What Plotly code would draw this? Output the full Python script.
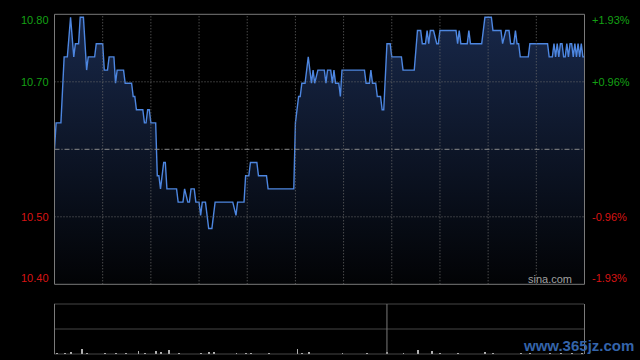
import plotly.graph_objects as go

# ---- data (minutes since 9:30 open, HK session 330 min) ----
prev_close = 10.60
axis_low, axis_high = 10.3955, 10.8045

minutes = [0, 1, 4, 6, 8, 10, 12, 13, 15, 16, 18, 20, 21, 25, 26, 30, 31, 33, 34, 37,
           38, 39, 43, 44, 48, 49, 50, 51, 55, 56, 57, 58, 59, 60, 63, 64, 65, 66, 68, 69,
           70, 76, 77, 80, 81, 83, 84, 85, 87, 88, 90, 91, 92, 94, 96, 98, 99, 100, 111, 113,
           114, 118, 119, 121, 122, 126, 127, 132, 133, 149, 150, 152, 153, 154, 156, 158, 160, 161, 162, 164,
           168, 169, 170, 172, 173, 174, 175, 177, 178, 179, 193, 194, 196, 197, 198, 200, 201, 203, 204, 205,
           207, 209, 210, 216, 217, 224, 226, 228, 229, 231, 232, 233, 234, 236, 238, 239, 240, 250, 251, 252,
           253, 257, 258, 259, 266, 268, 272, 273, 278, 279, 281, 283, 284, 286, 287, 288, 289, 290, 295, 296,
           307, 308, 310, 311, 312, 313, 314, 315, 316, 317, 318, 319, 320, 321, 322, 323, 324, 325, 326, 327,
           328, 329, 330]
prices = [10.60, 10.64, 10.64, 10.74, 10.74, 10.80, 10.74, 10.76, 10.76, 10.80, 10.80, 10.72, 10.74, 10.74, 10.76, 10.76, 10.72, 10.72, 10.74, 10.74,
          10.70, 10.72, 10.72, 10.70, 10.70, 10.68, 10.68, 10.66, 10.66, 10.64, 10.64, 10.66, 10.66, 10.64, 10.64, 10.56, 10.56, 10.54, 10.58, 10.58,
          10.54, 10.54, 10.52, 10.52, 10.54, 10.52, 10.52, 10.54, 10.54, 10.52, 10.52, 10.50, 10.52, 10.52, 10.48, 10.48, 10.50, 10.52, 10.52, 10.50,
          10.52, 10.52, 10.56, 10.56, 10.58, 10.58, 10.56, 10.56, 10.54, 10.54, 10.64, 10.68, 10.68, 10.70, 10.70, 10.74, 10.70, 10.72, 10.70, 10.72,
          10.72, 10.70, 10.72, 10.72, 10.70, 10.72, 10.70, 10.70, 10.68, 10.72, 10.72, 10.70, 10.70, 10.72, 10.70, 10.70, 10.68, 10.68, 10.66, 10.66,
          10.76, 10.76, 10.74, 10.74, 10.72, 10.72, 10.78, 10.78, 10.76, 10.76, 10.78, 10.76, 10.78, 10.78, 10.76, 10.76, 10.78, 10.78, 10.76, 10.78,
          10.76, 10.76, 10.78, 10.76, 10.76, 10.80, 10.80, 10.78, 10.78, 10.76, 10.78, 10.78, 10.76, 10.76, 10.78, 10.76, 10.76, 10.74, 10.74, 10.76,
          10.76, 10.74, 10.74, 10.76, 10.74, 10.76, 10.74, 10.76, 10.76, 10.74, 10.74, 10.76, 10.74, 10.76, 10.76, 10.74, 10.76, 10.74, 10.76, 10.74,
          10.76, 10.74, 10.74]

vol_minutes = [1, 6, 10, 17, 20, 31, 38, 44, 52, 56, 63, 66, 71, 77, 91, 96, 99, 113, 119, 122,
               133, 151, 154, 158, 179, 194, 207, 217, 226, 235, 240, 251, 268, 273, 290, 296, 308, 315, 322, 328]
vol_values = [2, 2, 3, 10, 2, 2, 2, 2, 7, 2, 6, 3, 8, 2, 2, 3, 4, 2, 2, 2,
              2, 10, 2, 3, 2, 2, 3, 2, 9, 7, 2, 2, 3, 2, 2, 2, 2, 2, 2, 2]

left_labels = ["10.80", "10.70", "10.50", "10.40"]
right_labels = ["+1.93%", "+0.96%", "-0.96%", "-1.93%"]
label_colors = ["#14a014", "#14a014", "#d81414", "#d81414"]
label_ypix = [20, 82, 217, 278]

# ---- figure ----
W, H = 640, 360
fig = go.Figure()

fig.add_trace(go.Scatter(
    x=minutes, y=prices, mode="lines",
    line=dict(color="#4d86e0", width=1.4),
    fill="tozeroy",
    fillgradient=dict(type="vertical",
                      colorscale=[[0, "#020305"], [1, "#18284a"]],
                      start=axis_low, stop=axis_high),
    hoverinfo="skip", showlegend=False,
    xaxis="x", yaxis="y"))

fig.add_trace(go.Bar(
    x=vol_minutes, y=vol_values, width=0.6,
    marker=dict(color="#b0b0b0", line=dict(width=0)),
    hoverinfo="skip", showlegend=False,
    xaxis="x2", yaxis="y2"))

x_dom = [54.5 / W, 584.5 / W]
fig.update_layout(
    width=W, height=H,
    margin=dict(l=0, r=0, t=0, b=0),
    paper_bgcolor="#000000", plot_bgcolor="#000000",
    xaxis=dict(domain=x_dom, range=[0, 330], showgrid=False, zeroline=False,
               showticklabels=False, ticks="", fixedrange=True),
    yaxis=dict(domain=[(H - 284.3) / H, (H - 14.3) / H], range=[axis_low, axis_high],
               showgrid=False, zeroline=False, showticklabels=False, ticks=""),
    xaxis2=dict(domain=x_dom, range=[0, 330], anchor="y2", showgrid=False, zeroline=False,
                showticklabels=False, ticks=""),
    yaxis2=dict(domain=[(H - 354) / H, (H - 304) / H], range=[0, 100], anchor="x2",
                showgrid=False, zeroline=False, showticklabels=False, ticks=""),
    bargap=0,
)

shapes = []
grid = dict(color="#6a6a6a", width=1, dash="1px,2px")
for m in range(30, 330, 30):
    shapes.append(dict(type="line", xref="x", yref="y", x0=m, x1=m, y0=axis_low, y1=axis_high,
                       line=grid, layer="above"))
q = (axis_high - prev_close) / 2
for yv in [prev_close + q, prev_close - q]:
    shapes.append(dict(type="line", xref="x", yref="y", x0=0, x1=330, y0=yv, y1=yv,
                       line=grid, layer="above"))
shapes.append(dict(type="line", xref="x", yref="y", x0=0, x1=330, y0=prev_close, y1=prev_close,
                   line=dict(color="#8a8a8a", width=1, dash="5px,2px,1px,2px"), layer="above"))
# main frame
shapes.append(dict(type="rect", xref="x domain", yref="y domain", x0=0, x1=1, y0=0, y1=1,
                   line=dict(color="#7a7a7a", width=1), layer="above"))
# volume panel frame
dense = dict(color="#8a8a8a", width=1, dash="1px,1px")
for yv in [0, 0.5, 1]:
    shapes.append(dict(type="line", xref="x2 domain", yref="y2 domain", x0=0, x1=1, y0=yv, y1=yv,
                       line=dense, layer="above"))
for xv in [0, 1]:
    shapes.append(dict(type="line", xref="x2 domain", yref="y2 domain", x0=xv, x1=xv, y0=0, y1=1,
                       line=dict(color="#7a7a7a", width=1), layer="above"))
shapes.append(dict(type="line", xref="x2", yref="y2 domain", x0=207, x1=207, y0=0, y1=1,
                   line=dict(color="#7a7a7a", width=1), layer="above"))
fig.update_layout(shapes=shapes)

ann = []
for lab, rlab, col, yp in zip(left_labels, right_labels, label_colors, label_ypix):
    ann.append(dict(text=lab, xref="paper", yref="paper", x=51 / W, y=(H - yp) / H,
                    xanchor="right", yanchor="middle", showarrow=False,
                    font=dict(family="Arial, Liberation Sans", size=11, color=col)))
    ann.append(dict(text=rlab, xref="paper", yref="paper", x=590 / W, y=(H - yp) / H,
                    xanchor="left", yanchor="middle", showarrow=False,
                    font=dict(family="Arial, Liberation Sans", size=11, color=col)))
ann.append(dict(text="sina.com", xref="paper", yref="paper", x=574 / W, y=(H - 279) / H,
                xanchor="right", yanchor="middle", showarrow=False,
                font=dict(family="Arial, Liberation Sans", size=11, color="#a0a0a0")))
ann.append(dict(text="<b>www.365jz.com</b>", xref="paper", yref="paper", x=636 / W, y=(H - 345) / H,
                xanchor="right", yanchor="middle", showarrow=False,
                font=dict(family="Arial, Liberation Sans", size=15, color="#3464aa")))
fig.update_layout(annotations=ann)

fig.write_html("out.html")
